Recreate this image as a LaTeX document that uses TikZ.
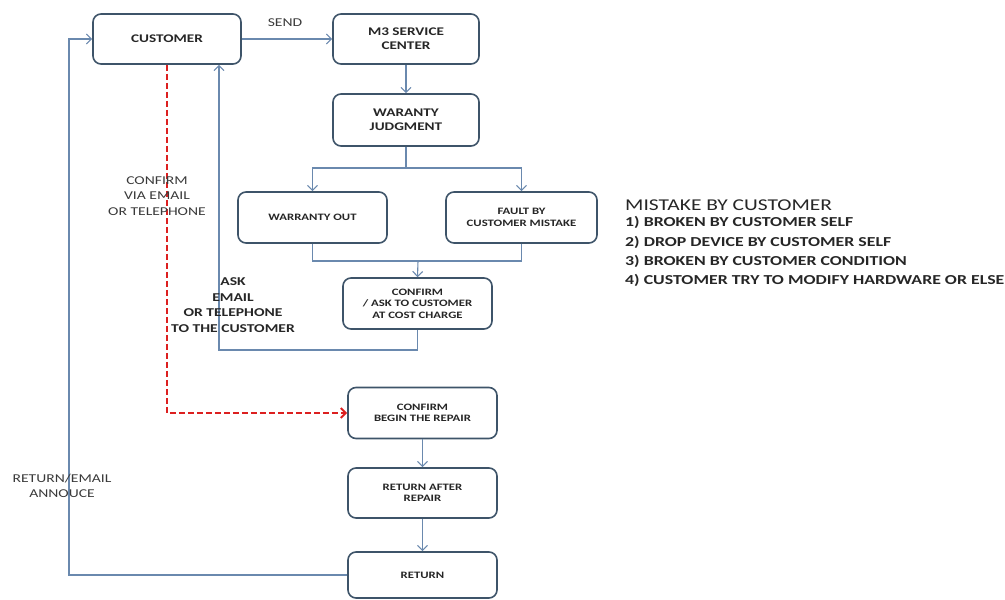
\documentclass[tikz,border=0pt]{standalone}
\usepackage{fontspec}
\setmainfont{Carlito}[FakeStretch=1.3]
\usetikzlibrary{arrows.meta,calc}
\definecolor{boxline}{HTML}{3E5469}
\definecolor{flowline}{HTML}{6A89AE}
\definecolor{labeltext}{HTML}{3A3A3A}
\definecolor{repairred}{HTML}{DC2020}
\begin{document}
\begin{tikzpicture}[x=1pt,y=-1pt,
  stepbox/.style={draw=boxline,line width=1.6pt,rounded corners=8pt,fill=white,
    align=center,font=\bfseries\fontsize{11.7}{14}\selectfont,text=black!85,inner sep=0pt},
  smallbox/.style={stepbox,font=\bfseries\fontsize{9.8}{11.5}\selectfont},
  flow/.style={draw=flowline,line width=1.1pt},
  flowarrow/.style={flow,-{Straight Barb[length=5pt,width=10pt,line width=1.1pt]}},
  note/.style={align=center,text=labeltext,font=\fontsize{12}{15.6}\selectfont},
  redflow/.style={draw=repairred,line width=2.2pt,dash pattern=on 6pt off 3pt,
    -{Straight Barb[length=5pt,width=10pt,line width=2pt]}}]
\useasboundingbox (0,0) rectangle (1005,600);

% process boxes
\node[stepbox,minimum width=148pt,minimum height=50pt] (customer) at (167,39) {CUSTOMER};
\node[stepbox,minimum width=146pt,minimum height=50pt] (center) at (406,39) {M3 SERVICE\\CENTER};
\node[stepbox,minimum width=146pt,minimum height=52pt] (judge) at (406,120) {WARANTY\\JUDGMENT};
\node[smallbox,minimum width=149pt,minimum height=51pt] (wout) at (312.5,217.5) {WARRANTY OUT};
\node[smallbox,minimum width=151pt,minimum height=51pt] (fault) at (521.5,217.5) {FAULT BY\\CUSTOMER MISTAKE};
\node[smallbox,minimum width=149pt,minimum height=51pt] (ask) at (417.5,303.5) {CONFIRM\\/ ASK TO CUSTOMER\\AT COST CHARGE};
\node[smallbox,minimum width=149pt,minimum height=51pt] (begin) at (422.5,413) {CONFIRM\\BEGIN THE REPAIR};
\node[smallbox,minimum width=149pt,minimum height=50pt] (rafter) at (422.5,493) {RETURN AFTER\\REPAIR};
\node[smallbox,minimum width=149pt,minimum height=46pt] (ret) at (422.5,575) {RETURN};

% junction points
\coordinate (split) at (406,168);
\coordinate (merge) at (418,261);
\coordinate (askloop) at (219,350);
\coordinate (retloop) at (69,39);

% connectors
\draw[flowarrow] (customer.east) -- (center.west);
\draw[flowarrow] (center.south) -- (judge.north);
\draw[flow] (judge.south) -- (split);
\draw[flowarrow] (split) -| (wout.north);
\draw[flowarrow] (split) -| (fault.north);
\draw[flow] (wout.south) |- (merge) -| (fault.south);
\draw[flowarrow] (merge) -- (ask.north);
\draw[flowarrow] (ask.south) |- (askloop) -- (askloop |- customer.south);
\draw[redflow] (customer.south) |- (begin.west);
\draw[flowarrow] (begin.south) -- (rafter.north);
\draw[flowarrow] (rafter.south) -- (ret.north);
\draw[flowarrow] (ret.west) -| (retloop) -- (customer.west);

% labels
\node[note] (send) at (285,23) {SEND};
\node[note] (viamail) at (157,196) {CONFIRM\\VIA EMAIL\\OR TELEPHONE};
\node[note,font=\bfseries\fontsize{12}{15.7}\selectfont,text=black!85] (askmail) at (233,305) {ASK\\EMAIL\\OR TELEPHONE\\TO THE CUSTOMER};
\node[note] (announce) at (62,486) {RETURN/EMAIL\\ANNOUCE};

% side notes
\node[anchor=base west,inner sep=0pt,text=black!85,font=\fontsize{16.5}{19}\selectfont] (mistitle) at (625,210.5) {MISTAKE BY CUSTOMER};
\node[anchor=north west,align=left,inner sep=0pt,text=black!85,font=\bfseries\fontsize{13.7}{19.2}\selectfont] (mistakes) at (625,216.5)
  {1) BROKEN BY CUSTOMER SELF\\
   2) DROP DEVICE BY CUSTOMER SELF\\
   3) BROKEN BY CUSTOMER CONDITION\\
   4) CUSTOMER TRY TO MODIFY HARDWARE OR ELSE};
\end{tikzpicture}
\end{document}
